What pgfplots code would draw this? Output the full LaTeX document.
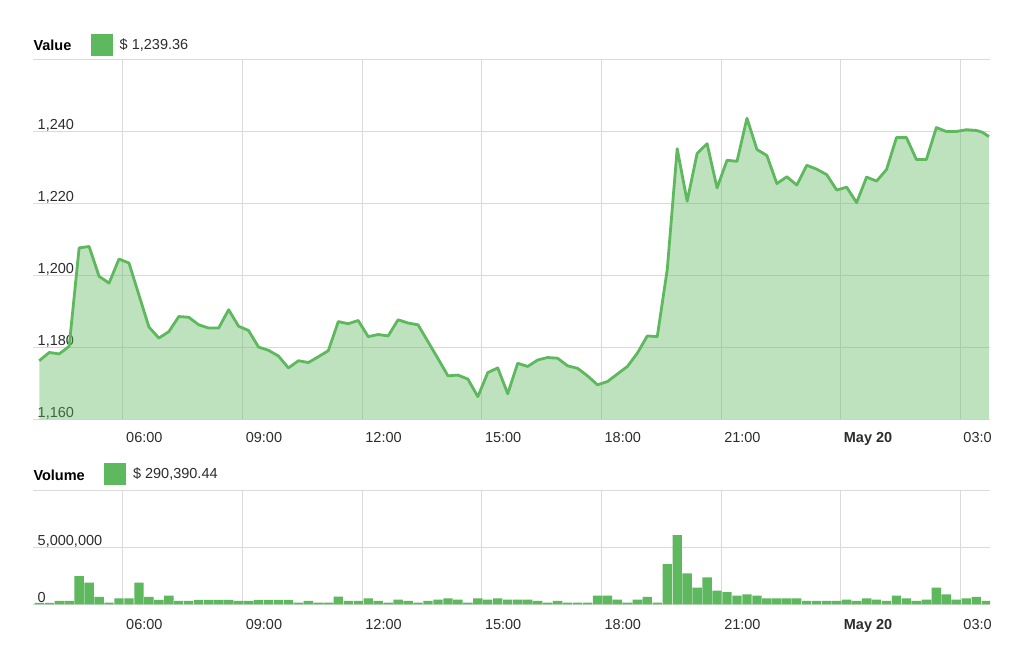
\documentclass[border=0pt]{standalone}
\usepackage{fontspec}
\setmainfont{Liberation Sans}
\usepackage{pgfplots}
\pgfplotsset{compat=1.18}
\usepackage{pgfplotstable}
\definecolor{vgreen}{RGB}{94,184,94}
\definecolor{gridgray}{RGB}{218,218,218}
\definecolor{txt}{RGB}{45,45,45}

\pgfplotstableread{
h v
3.90 1176.3
4.15 1178.6
4.40 1178.2
4.65 1180.3
4.90 1207.7
5.15 1208.1
5.40 1199.8
5.65 1197.9
5.90 1204.6
6.15 1203.5
6.40 1194.6
6.65 1185.7
6.90 1182.6
7.15 1184.4
7.40 1188.6
7.65 1188.4
7.90 1186.3
8.15 1185.4
8.40 1185.4
8.65 1190.5
8.90 1185.9
9.15 1184.7
9.40 1180.1
9.65 1179.2
9.90 1177.6
10.15 1174.3
10.40 1176.3
10.65 1175.8
10.90 1177.4
11.15 1179.1
11.40 1187.2
11.65 1186.6
11.90 1187.5
12.15 1183.0
12.40 1183.6
12.65 1183.2
12.90 1187.7
13.15 1186.8
13.40 1186.3
13.65 1181.6
13.90 1176.9
14.15 1172.1
14.40 1172.3
14.65 1171.2
14.90 1166.3
15.15 1173.0
15.40 1174.3
15.65 1167.1
15.90 1175.6
16.15 1174.7
16.40 1176.5
16.65 1177.2
16.90 1177.0
17.15 1174.9
17.40 1174.2
17.65 1172.1
17.90 1169.6
18.15 1170.5
18.40 1172.6
18.65 1174.7
18.90 1178.4
19.15 1183.2
19.40 1183.0
19.65 1201.6
19.90 1235.3
20.15 1220.7
20.40 1234.0
20.65 1236.7
20.90 1224.4
21.15 1232.1
21.40 1231.8
21.65 1243.8
21.90 1235.1
22.15 1233.4
22.40 1225.6
22.65 1227.5
22.90 1225.2
23.15 1230.7
23.40 1229.6
23.65 1228.1
23.90 1223.8
24.15 1224.6
24.40 1220.3
24.65 1227.4
24.90 1226.3
25.15 1229.5
25.40 1238.4
25.65 1238.4
25.90 1232.3
26.15 1232.3
26.40 1241.2
26.65 1240.1
26.90 1240.1
27.15 1240.6
27.40 1240.4
27.55 1239.9
27.72 1238.7
}\valuedata

\pgfplotstableread{
h vol
3.90 0.12
4.15 0.12
4.40 0.29
4.65 0.29
4.90 2.47
5.15 1.89
5.40 0.64
5.65 0.15
5.90 0.52
6.15 0.52
6.40 1.89
6.65 0.64
6.90 0.38
7.15 0.76
7.40 0.29
7.65 0.29
7.90 0.38
8.15 0.38
8.40 0.38
8.65 0.38
8.90 0.29
9.15 0.29
9.40 0.38
9.65 0.38
9.90 0.38
10.15 0.38
10.40 0.15
10.65 0.29
10.90 0.15
11.15 0.15
11.40 0.67
11.65 0.29
11.90 0.29
12.15 0.52
12.40 0.29
12.65 0.15
12.90 0.41
13.15 0.29
13.40 0.15
13.65 0.29
13.90 0.41
14.15 0.52
14.40 0.41
14.65 0.15
14.90 0.52
15.15 0.41
15.40 0.52
15.65 0.41
15.90 0.41
16.15 0.41
16.40 0.29
16.65 0.15
16.90 0.29
17.15 0.15
17.40 0.15
17.65 0.15
17.90 0.76
18.15 0.76
18.40 0.41
18.65 0.15
18.90 0.41
19.15 0.64
19.40 0.15
19.65 3.52
19.90 6.05
20.15 2.70
20.40 1.45
20.65 2.36
20.90 1.19
21.15 1.07
21.40 0.76
21.65 0.87
21.90 0.76
22.15 0.52
22.40 0.52
22.65 0.52
22.90 0.52
23.15 0.29
23.40 0.29
23.65 0.29
23.90 0.29
24.15 0.41
24.40 0.29
24.65 0.52
24.90 0.41
25.15 0.29
25.40 0.76
25.65 0.52
25.90 0.29
26.15 0.41
26.40 1.45
26.65 0.87
26.90 0.41
27.15 0.52
27.40 0.64
27.65 0.29
}\voldata

\pgfplotsset{
  squarelegend/.style={
    legend image code/.code={%
      \fill[vgreen, fill opacity=1] (0pt,-11pt) rectangle (22pt,11pt);
      \path (0pt,0pt) -- (27pt,0pt);}
  },
  chartbase/.style={
    scale only axis,
    width=957pt,
    xmin=3.743, xmax=27.746,
    xtick={6,9,12,15,18,21,24,27},
    xticklabels={06:00,09:00,12:00,15:00,18:00,21:00,\textbf{May 20},03:0},
    grid=major,
    major grid style={gridgray, line width=1pt},
    axis line style={draw=none},
    major tick length=0pt,
    tick label style={text=txt},
    yticklabel style={anchor=base west, inner sep=0pt, xshift=4.5pt, yshift=2pt},
    legend style={draw=none, fill=none, inner sep=0pt, outer sep=0pt,
      font=\fontsize{14.5}{17}\selectfont, text=txt},
  }
}

\begin{document}
\begin{tikzpicture}[font=\fontsize{14.5}{17}\selectfont]
\path[use as bounding box, fill=white] (0pt,0pt) rectangle (1024pt,665pt);

\begin{axis}[chartbase,
  at={(33pt,245.7pt)}, anchor=south west,
  height=359.3pt,
  ymin=1160, ymax=1260,
  ytick={1160,1180,1200,1220,1240,1260},
  yticklabels={{1,160},{1,180},{1,200},{1,220},{1,240},{}},
  xticklabel style={anchor=base west, inner sep=0pt, xshift=3pt, yshift=-23.1pt},
  legend style={at={(rel axis cs:0.0603,1.0431)}, anchor=west},
]
\addplot[draw=none, fill=vgreen, fill opacity=0.4, squarelegend] table[x=h,y=v]{\valuedata} \closedcycle;
\addlegendentry{\$ 1,239.36}
\addplot[vgreen, line width=2.8pt, line join=round, forget plot] table[x=h,y=v]{\valuedata};
\end{axis}

\begin{axis}[chartbase,
  at={(33pt,60.7pt)}, anchor=south west,
  height=114.3pt,
  ymin=0, ymax=10,
  ytick={0,5,10},
  yticklabels={{0},{5,000,000},{}},
  xticklabel style={anchor=base west, inner sep=0pt, xshift=3pt, yshift=-24.7pt},
  legend style={at={(rel axis cs:0.0742,1.1383)}, anchor=west},
  ybar, bar width=0.235,
]
\addplot[fill=vgreen, draw=none, squarelegend] table[x=h,y=vol]{\voldata};
\addlegendentry{\$ 290,390.44}
\end{axis}

\node[anchor=base west, inner sep=0pt, font=\fontsize{14.5}{17}\selectfont\bfseries] at (33.3pt,614.3pt) {Value};
\node[anchor=base west, inner sep=0pt, font=\fontsize{14.5}{17}\selectfont\bfseries] at (33.3pt,184.3pt) {Volume};
\end{tikzpicture}
\end{document}
